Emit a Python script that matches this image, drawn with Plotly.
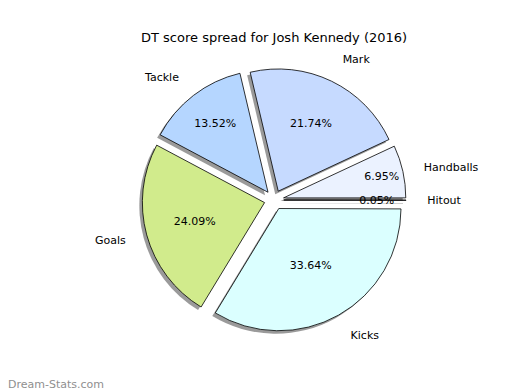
import plotly.graph_objects as go

categories = ["Handballs", "Mark", "Tackle", "Goals", "Kicks", "Hitout"]
shares = [6.95, 21.74, 13.52, 24.09, 33.64, 0.05]
colors = ["#EBF2FF", "#C6DAFF", "#B5D6FF", "#D1EB8C", "#DBFFFF", "#E6E6FA"]
title_text = "DT score spread for Josh Kennedy (2016)"
watermark = "Dream-Stats.com"

W, H = 520, 390
cx, cy, R = 266, 192, 132
pull = [0.08] * len(categories)

# plotly places the first counterclockwise slice ending at the rotation angle;
# shift so the first slice starts at 3 o'clock like the reference
rot = 90 - shares[0] / sum(shares) * 360
tiny = [s < 1 for s in shares]

def dom(dx=0, dy=0, r=R):
    return dict(x=[(cx - r + dx) / W, (cx + r + dx) / W],
                y=[(H - cy - r - dy) / H, (H - cy + r - dy) / H])

common = dict(labels=categories, values=shares, sort=False, direction="counterclockwise",
              rotation=rot, pull=pull, hoverinfo="skip", showlegend=False)
clear = ["rgba(0,0,0,0)"] * len(categories)
pct_font = dict(family="DejaVu Sans", size=11, color="black")

fig = go.Figure()
# shadow
fig.add_trace(go.Pie(**common, domain=dom(-3, 3), textinfo="none",
                     marker=dict(colors=["rgba(120,120,120,0.75)"] * len(categories),
                                 line=dict(width=0))))
# main slices with percent inside
fig.add_trace(go.Pie(**common, domain=dom(),
                     texttemplate=["" if t else "%{percent:.2%}" for t in tiny],
                     textposition="inside", insidetextorientation="horizontal",
                     textfont=pct_font,
                     marker=dict(colors=colors, line=dict(color="black", width=0.8))))
# percent of the tiny slice, drawn on a smaller transparent ring so it sits inside
fig.add_trace(go.Pie(**common, domain=dom(r=R * 0.78),
                     texttemplate=["%{percent:.2%}" if t else "" for t in tiny],
                     textposition="inside", insidetextorientation="horizontal",
                     textfont=pct_font,
                     marker=dict(colors=clear, line=dict(width=0))))
# labels outside (transparent, larger ring so labels sit further out)
fig.add_trace(go.Pie(**common, domain=dom(r=R + 18),
                     texttemplate="%{label}", textposition="outside",
                     outsidetextfont=dict(family="DejaVu Sans", size=11, color="black"),
                     marker=dict(colors=clear, line=dict(width=0))))

fig.update_layout(
    width=W, height=H,
    margin=dict(l=0, r=0, t=0, b=0),
    paper_bgcolor="white", plot_bgcolor="white",
    uniformtext=dict(minsize=11, mode="show"),
    annotations=[
        dict(text=title_text, xref="paper", yref="paper", x=266 / W, y=1 - 30 / H,
             xanchor="center", yanchor="middle", showarrow=False,
             font=dict(family="DejaVu Sans", size=13, color="black")),
        dict(text=watermark, xref="paper", yref="paper", x=0, y=0,
             xanchor="left", yanchor="bottom", showarrow=False, yshift=5, xshift=-2,
             font=dict(family="DejaVu Sans", size=11, color="#8f8f8f")),
    ],
)

fig.write_html("out.html")
